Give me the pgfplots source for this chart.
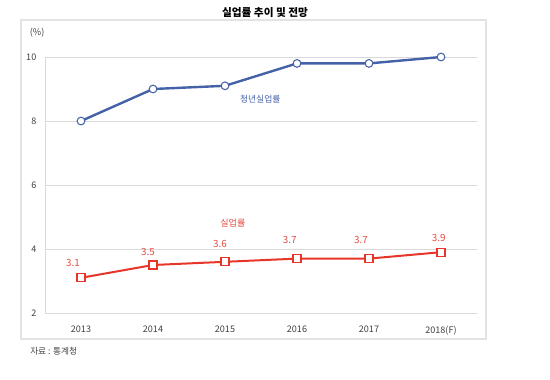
\documentclass[border=0pt]{standalone}
\usepackage{pgfplots}
\pgfplotsset{compat=1.18}
\usepackage{fontspec}
\setmainfont{Noto Sans CJK KR}
\definecolor{cblue}{HTML}{4562A8}
\definecolor{cred}{HTML}{E8352A}
\definecolor{clab}{HTML}{E24A42}
\definecolor{cgrid}{HTML}{D9D9D9}
\definecolor{cframe}{HTML}{E3E3E3}
\definecolor{ctext}{HTML}{404040}
\begin{document}
\begin{tikzpicture}
\path[use as bounding box] (0,0) rectangle (412.5pt,284.25pt);
\draw[cframe, line width=0.8pt] (15.75pt,30pt) rectangle (364.5pt,269.25pt);
\node[font=\fontsize{8}{9}\selectfont\bfseries, text=black] at (198.75pt,274.5pt) {실업률 추이 및 전망};
\node[font=\fontsize{6.5}{8}\selectfont, text=ctext, anchor=west, inner sep=0pt] at (22.5pt,21pt) {자료 : 통계청};
\begin{axis}[
  at={(33.75pt,49.5pt)}, anchor=south west,
  scale only axis, width=324pt, height=192pt,
  xmin=-0.5, xmax=5.5, ymin=2, ymax=10,
  xtick={0,1,2,3,4,5},
  xticklabels={2013,2014,2015,2016,2017,2018(F)},
  ytick={2,4,6,8,10},
  ymajorgrids, grid style={cgrid, line width=0.6pt},
  axis x line*=bottom, axis y line*=left,
  axis line style={cgrid, line width=0.6pt},
  x axis line style={-}, y axis line style={-},
  major tick length=0pt,
  tick label style={font=\fontsize{6.8}{8}\selectfont, text=ctext},
  xticklabel style={yshift=-6pt},
  yticklabel style={xshift=-3pt},
  /pgf/number format/assume math mode=true,
  clip=false,
]
\addplot[cblue, line width=1.8pt, mark=*, mark size=2.9pt,
  mark options={fill=white, draw=cblue, line width=0.8pt}]
  coordinates {(0,8.0) (1,9.0) (2,9.1) (3,9.8) (4,9.8) (5,10.0)};
\addplot[cred, line width=1.5pt, mark=square*, mark size=3pt,
  mark options={fill=white, draw=cred, line width=0.8pt}]
  coordinates {(0,3.1) (1,3.5) (2,3.6) (3,3.7) (4,3.7) (5,3.9)};
\begin{scope}[every node/.style={font=\fontsize{7.4}{9}\selectfont, text=clab}]
\node at (axis cs:-0.11,3.56) {3.1};
\node at (axis cs:0.93,3.91) {3.5};
\node at (axis cs:1.93,4.16) {3.6};
\node at (axis cs:2.90,4.28) {3.7};
\node at (axis cs:3.89,4.28) {3.7};
\node at (axis cs:4.97,4.34) {3.9};
\end{scope}
\node[font=\fontsize{6.8}{8}\selectfont, text=clab] at (axis cs:2.11,4.81) {실업률};
\node[font=\fontsize{6.6}{8}\selectfont, text=cblue] at (axis cs:2.49,8.69) {청년실업률};
\node[font=\fontsize{6.8}{8}\selectfont, text=ctext] at (axis cs:-0.61,10.75) {(\%)};
\end{axis}
\end{tikzpicture}
\end{document}
